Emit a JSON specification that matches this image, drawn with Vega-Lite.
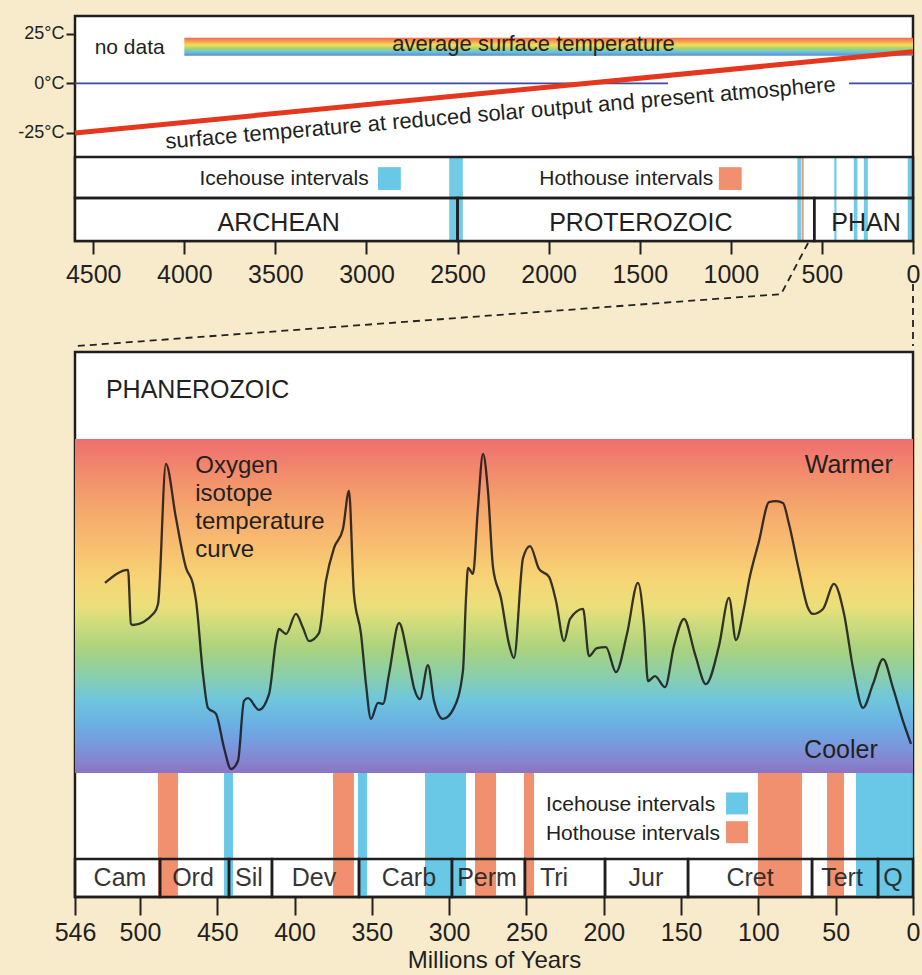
{
  "$schema": "https://vega.github.io/schema/vega-lite/v6.json",
  "background": "#F8EBCB",
  "padding": {"left": 16, "top": 14, "right": 6, "bottom": 4},
  "bounds": "flush",
  "spacing": 111,
  "config": {
    "font": "Liberation Sans",
    "view": {"stroke": "#1e1e1e", "strokeWidth": 2.5, "fill": "#ffffff"},
    "axis": {"labelFont": "Liberation Sans", "titleFont": "Liberation Sans", "labelColor": "#231f20", "titleColor": "#231f20", "tickColor": "#231f20", "domain": false, "grid": false, "labelOverlap": false, "labelFlush": false},
    "text": {"font": "Liberation Sans", "color": "#231f20"}
  },
  "datasets": {
    "eons": [
      {"eon": "ARCHEAN", "start": 4600, "end": 2500, "labelAge": 3482},
      {"eon": "PROTEROZOIC", "start": 2500, "end": 542, "labelAge": 1494},
      {"eon": "PHAN", "start": 542, "end": 0, "labelAge": 258}
    ],
    "topIntervals": [
      {"type": "Icehouse", "start": 2546, "end": 2471},
      {"type": "Icehouse", "start": 635, "end": 615},
      {"type": "Hothouse", "start": 612, "end": 600},
      {"type": "Icehouse", "start": 432, "end": 420},
      {"type": "Icehouse", "start": 325, "end": 305},
      {"type": "Icehouse", "start": 270, "end": 248},
      {"type": "Icehouse", "start": 29, "end": 0}
    ],
    "zeroLine": [
      {"from": 4600, "to": 1345, "temp": 0},
      {"from": 351, "to": 0, "temp": 0}
    ],
    "reducedSolar": [
      {"age": 4600, "temp": -25},
      {"age": 0, "temp": 16}
    ],
    "avgBand": [{"from": 4000, "to": 0, "hi": 23, "lo": 14}],
    "connectors": [
      {"seg": "a", "i": 1, "age": 576, "temp": -80.5},
      {"seg": "a", "i": 2, "age": 724, "temp": -106.3},
      {"seg": "a", "i": 3, "age": 4593, "temp": -132.5},
      {"seg": "b", "i": 1, "age": 0, "temp": -101.2},
      {"seg": "b", "i": 2, "age": 0, "temp": -132.5}
    ],
    "periods": [
      {"period": "Cam", "start": 542, "end": 487, "labelAge": 512.9},
      {"period": "Ord", "start": 487, "end": 442.4, "labelAge": 465.7},
      {"period": "Sil", "start": 442.4, "end": 414.6, "labelAge": 429.5},
      {"period": "Dev", "start": 414.6, "end": 358.3, "labelAge": 387.4},
      {"period": "Carb", "start": 358.3, "end": 298.2, "labelAge": 326},
      {"period": "Perm", "start": 298.2, "end": 251, "labelAge": 275.5},
      {"period": "Tri", "start": 251, "end": 199.2, "labelAge": 232.2},
      {"period": "Jur", "start": 199.2, "end": 145.5, "labelAge": 172.7},
      {"period": "Cret", "start": 145.5, "end": 65.3, "labelAge": 105.4},
      {"period": "Tert", "start": 65.3, "end": 22.6, "labelAge": 45.9},
      {"period": "Q", "start": 22.6, "end": 0, "labelAge": 12.9}
    ],
    "bottomIntervals": [
      {"type": "Hothouse", "start": 488.3, "end": 475.4},
      {"type": "Icehouse", "start": 445.6, "end": 439.8},
      {"type": "Hothouse", "start": 375.1, "end": 361.6},
      {"type": "Icehouse", "start": 359.0, "end": 353.1},
      {"type": "Icehouse", "start": 315.6, "end": 289.1},
      {"type": "Hothouse", "start": 283.3, "end": 269.7},
      {"type": "Hothouse", "start": 251.6, "end": 245.1},
      {"type": "Hothouse", "start": 100.3, "end": 71.8},
      {"type": "Hothouse", "start": 55.6, "end": 44.6},
      {"type": "Icehouse", "start": 36.9, "end": 0}
    ],
    "curve": [
      {"age": 522.6, "index": 56.9}, {"age": 507.7, "index": 60.8}, {"age": 505.8, "index": 44.6}, {"age": 504.5, "index": 44.3},
      {"age": 490.9, "index": 47.9}, {"age": 488.3, "index": 50.6}, {"age": 483.2, "index": 92.5}, {"age": 476.7, "index": 76.3},
      {"age": 470.2, "index": 61.4}, {"age": 465.7, "index": 56.6}, {"age": 463.7, "index": 51.5}, {"age": 459.2, "index": 29.6},
      {"age": 456.0, "index": 19.5}, {"age": 450.8, "index": 17.7}, {"age": 445.6, "index": 7.5}, {"age": 441.1, "index": 1.2},
      {"age": 436.6, "index": 3.6}, {"age": 432.7, "index": 21.6}, {"age": 430.1, "index": 22.4}, {"age": 423.0, "index": 18.9},
      {"age": 416.5, "index": 23.6}, {"age": 412.0, "index": 39.5}, {"age": 410.1, "index": 43.1}, {"age": 405.5, "index": 41.6},
      {"age": 399.1, "index": 47.6}, {"age": 394.5, "index": 43.4}, {"age": 390.7, "index": 39.5}, {"age": 384.2, "index": 41.9},
      {"age": 379.7, "index": 57.5}, {"age": 374.5, "index": 67.3}, {"age": 368.7, "index": 73.0}, {"age": 364.8, "index": 84.4},
      {"age": 361.6, "index": 53.6}, {"age": 357.0, "index": 41.6}, {"age": 353.8, "index": 26.6}, {"age": 350.6, "index": 16.2},
      {"age": 346.0, "index": 21.0}, {"age": 342.8, "index": 20.7}, {"age": 338.9, "index": 29.6}, {"age": 332.4, "index": 44.9},
      {"age": 326.6, "index": 34.4}, {"age": 322.7, "index": 25.4}, {"age": 318.9, "index": 22.1}, {"age": 313.7, "index": 32.3},
      {"age": 309.8, "index": 21.6}, {"age": 304.0, "index": 16.2}, {"age": 296.9, "index": 19.5}, {"age": 291.1, "index": 30.5},
      {"age": 289.1, "index": 52.4}, {"age": 287.8, "index": 61.4}, {"age": 284.6, "index": 59.6}, {"age": 281.4, "index": 79.3},
      {"age": 278.1, "index": 95.5}, {"age": 274.9, "index": 84.4}, {"age": 271.6, "index": 61.4}, {"age": 266.5, "index": 52.4},
      {"age": 261.3, "index": 38.6}, {"age": 258.1, "index": 34.4}, {"age": 252.2, "index": 64.4}, {"age": 247.7, "index": 67.9},
      {"age": 241.9, "index": 61.1}, {"age": 235.4, "index": 58.7}, {"age": 230.9, "index": 51.5}, {"age": 225.7, "index": 39.5},
      {"age": 221.8, "index": 46.1}, {"age": 213.4, "index": 49.1}, {"age": 209.6, "index": 35.0}, {"age": 204.4, "index": 37.4},
      {"age": 198.6, "index": 37.7}, {"age": 192.1, "index": 30.2}, {"age": 185.0, "index": 41.6}, {"age": 177.9, "index": 56.9},
      {"age": 174.0, "index": 44.6}, {"age": 171.4, "index": 27.5}, {"age": 166.9, "index": 29.0}, {"age": 160.4, "index": 25.7},
      {"age": 154.6, "index": 38.0}, {"age": 148.1, "index": 46.1}, {"age": 141.0, "index": 35.6}, {"age": 133.9, "index": 26.6},
      {"age": 125.5, "index": 38.0}, {"age": 119.0, "index": 52.4}, {"age": 114.5, "index": 39.8}, {"age": 109.3, "index": 49.4},
      {"age": 106.1, "index": 57.5}, {"age": 99.6, "index": 69.4}, {"age": 93.1, "index": 81.1}, {"age": 88.6, "index": 81.4},
      {"age": 84.1, "index": 80.8}, {"age": 80.2, "index": 74.5}, {"age": 73.7, "index": 60.5}, {"age": 67.9, "index": 49.4},
      {"age": 64.7, "index": 47.6}, {"age": 58.2, "index": 49.1}, {"age": 51.1, "index": 56.6}, {"age": 44.6, "index": 47.6},
      {"age": 38.8, "index": 31.4}, {"age": 32.3, "index": 19.5}, {"age": 25.9, "index": 26.6}, {"age": 19.4, "index": 34.1},
      {"age": 12.9, "index": 25.4}, {"age": 6.5, "index": 15.6}, {"age": 1.3, "index": 8.7}
    ]
  },
  "vconcat": [
    {
      "width": 838,
      "height": 225,
      "layer": [
        {
          "data": {"name": "reducedSolar"},
          "mark": {"type": "line", "strokeWidth": 0, "opacity": 0},
          "encoding": {
            "x": {"field": "age", "type": "quantitative", "title": null, "scale": {"domain": [4600, 0], "nice": false, "zero": false},
              "axis": {"values": [4500, 4000, 3500, 3000, 2500, 2000, 1500, 1000, 500, 0], "format": "d", "tickSize": 13, "tickWidth": 2, "labelFontSize": 25, "labelPadding": 8}},
            "y": {"field": "temp", "type": "quantitative", "title": null, "scale": {"domain": [-79.5, 34], "nice": false, "zero": false},
              "axis": {"values": [25, 0, -25], "labelExpr": "datum.value + '°C'", "tickSize": 9, "tickWidth": 2, "labelFontSize": 18, "labelPadding": 2}}
          }
        },
        {
          "data": {"name": "eons"},
          "mark": {"type": "rect", "fill": "#ffffff"},
          "encoding": {
            "x": {"field": "start", "type": "quantitative", "title": null},
            "x2": {"field": "end"},
            "y": {"datum": -37.1, "type": "quantitative", "title": null},
            "y2": {"datum": -79.5}
          }
        },
        {
          "data": {"name": "avgBand"},
          "mark": {"type": "rect", "fill": {"gradient": "linear", "x1": 0, "y1": 0, "x2": 0, "y2": 1,
            "stops": [
              {"offset": 0, "color": "#F26A4A"},
              {"offset": 0.2, "color": "#F6A04E"},
              {"offset": 0.4, "color": "#F3DC5E"},
              {"offset": 0.6, "color": "#A8D46C"},
              {"offset": 0.8, "color": "#64C3E2"},
              {"offset": 1, "color": "#6088D2"}
            ]}},
          "encoding": {
            "x": {"field": "from", "type": "quantitative", "title": null},
            "x2": {"field": "to"},
            "y": {"field": "hi", "type": "quantitative", "title": null},
            "y2": {"field": "lo"}
          }
        },
        {
          "data": {"name": "zeroLine"},
          "mark": {"type": "rule", "color": "#3B4BA0", "strokeWidth": 1.6},
          "encoding": {
            "x": {"field": "from", "type": "quantitative", "title": null},
            "x2": {"field": "to"},
            "y": {"field": "temp", "type": "quantitative", "title": null}
          }
        },
        {
          "data": {"name": "reducedSolar"},
          "mark": {"type": "line", "color": "#E5371D", "strokeWidth": 5},
          "encoding": {
            "x": {"field": "age", "type": "quantitative", "title": null},
            "y": {"field": "temp", "type": "quantitative", "title": null}
          }
        },
        {
          "data": {"values": [{"t": "no data", "age": 4492, "temp": 15.0}]},
          "mark": {"type": "text", "fontSize": 21, "align": "left", "baseline": "alphabetic"},
          "encoding": {
            "x": {"field": "age", "type": "quantitative", "title": null},
            "y": {"field": "temp", "type": "quantitative", "title": null},
            "text": {"field": "t"}
          }
        },
        {
          "data": {"values": [{"t": "average surface temperature", "age": 2083, "temp": 16.3}]},
          "mark": {"type": "text", "fontSize": 22, "align": "center", "baseline": "alphabetic", "color": "#2a2018"},
          "encoding": {
            "x": {"field": "age", "type": "quantitative", "title": null},
            "y": {"field": "temp", "type": "quantitative", "title": null},
            "text": {"field": "t"}
          }
        },
        {
          "data": {"values": [{"t": "surface temperature at reduced solar output and present atmosphere", "age": 2261, "temp": -18.5}]},
          "mark": {"type": "text", "fontSize": 22, "align": "center", "baseline": "alphabetic", "angle": 355.1},
          "encoding": {
            "x": {"field": "age", "type": "quantitative", "title": null},
            "y": {"field": "temp", "type": "quantitative", "title": null},
            "text": {"field": "t"}
          }
        },
        {
          "data": {"name": "topIntervals"},
          "mark": {"type": "rect", "opacity": 0.85},
          "encoding": {
            "x": {"field": "start", "type": "quantitative", "title": null},
            "x2": {"field": "end"},
            "y": {"datum": -37.1, "type": "quantitative", "title": null},
            "y2": {"datum": -79.5},
            "color": {"field": "type", "type": "nominal", "legend": null, "scale": {"domain": ["Icehouse", "Hothouse"], "range": ["#58C2E2", "#F0845E"]}}
          }
        },
        {
          "data": {"name": "avgBand"},
          "mark": {"type": "rect", "stroke": "#1e1e1e", "strokeWidth": 2.5, "fillOpacity": 0},
          "encoding": {
            "x": {"datum": 4600, "type": "quantitative", "title": null},
            "x2": {"datum": 0},
            "y": {"datum": -37.1, "type": "quantitative", "title": null},
            "y2": {"datum": -57.8}
          }
        },
        {
          "data": {"name": "eons"},
          "mark": {"type": "rect", "stroke": "#1e1e1e", "strokeWidth": 2.5, "fillOpacity": 0},
          "encoding": {
            "x": {"field": "start", "type": "quantitative", "title": null},
            "x2": {"field": "end"},
            "y": {"datum": -57.8, "type": "quantitative", "title": null},
            "y2": {"datum": -79.5}
          }
        },
        {
          "data": {"name": "eons"},
          "mark": {"type": "text", "fontSize": 25, "align": "center", "baseline": "alphabetic"},
          "encoding": {
            "x": {"field": "labelAge", "type": "quantitative", "title": null},
            "y": {"datum": -74.5, "type": "quantitative", "title": null},
            "text": {"field": "eon"}
          }
        },
        {
          "data": {"values": [{"t": "Icehouse intervals", "age": 3917, "temp": -51.4}, {"t": "Hothouse intervals", "age": 2051, "temp": -51.4}]},
          "mark": {"type": "text", "fontSize": 21, "align": "left", "baseline": "alphabetic"},
          "encoding": {
            "x": {"field": "age", "type": "quantitative", "title": null},
            "y": {"field": "temp", "type": "quantitative", "title": null},
            "text": {"field": "t"}
          }
        },
        {
          "data": {"values": [{"type": "Icehouse", "age": 2874, "temp": -48}, {"type": "Hothouse", "age": 1003, "temp": -48}]},
          "mark": {"type": "point", "shape": "square", "filled": true, "size": 520, "opacity": 0.9},
          "encoding": {
            "x": {"field": "age", "type": "quantitative", "title": null},
            "y": {"field": "temp", "type": "quantitative", "title": null},
            "color": {"field": "type", "type": "nominal", "legend": null}
          }
        },
        {
          "data": {"name": "connectors"},
          "mark": {"type": "line", "color": "#222222", "strokeWidth": 1.8, "strokeDash": [7, 5]},
          "encoding": {
            "x": {"field": "age", "type": "quantitative", "title": null},
            "y": {"field": "temp", "type": "quantitative", "title": null},
            "detail": {"field": "seg"},
            "order": {"field": "i"}
          }
        }
      ]
    },
    {
      "width": 838,
      "height": 545,
      "layer": [
        {
          "data": {"values": [{"from": 542, "to": 0, "warm": 100, "cool": 0}]},
          "mark": {"type": "rect", "fill": {"gradient": "linear", "x1": 0, "y1": 0, "x2": 0, "y2": 1,
            "stops": [
              {"offset": 0, "color": "#EE6E70"},
              {"offset": 0.1, "color": "#F28B6C"},
              {"offset": 0.2, "color": "#F5A56C"},
              {"offset": 0.32, "color": "#F8BE70"},
              {"offset": 0.42, "color": "#F7D475"},
              {"offset": 0.5, "color": "#EBDF7A"},
              {"offset": 0.56, "color": "#CBDB7C"},
              {"offset": 0.63, "color": "#A9D27E"},
              {"offset": 0.7, "color": "#8DCFA6"},
              {"offset": 0.78, "color": "#6FC6DD"},
              {"offset": 0.86, "color": "#6AAEE4"},
              {"offset": 0.93, "color": "#7D93DA"},
              {"offset": 1, "color": "#8B74C3"}
            ]}},
          "encoding": {
            "x": {"field": "from", "type": "quantitative", "title": "Millions of Years", "scale": {"domain": [542, 0], "nice": false, "zero": false},
              "axis": {"values": [542, 500, 450, 400, 350, 300, 250, 200, 150, 100, 50, 0], "labelExpr": "datum.value == 542 ? '546' : datum.label", "tickSize": 18, "tickWidth": 2, "labelFontSize": 25, "labelPadding": 5, "titleFontSize": 24, "titleFontWeight": "normal", "titlePadding": 3}},
            "x2": {"field": "to"},
            "y": {"field": "warm", "type": "quantitative", "scale": {"domain": [-37.1, 126], "nice": false, "zero": false}, "axis": null},
            "y2": {"field": "cool"}
          }
        },
        {
          "data": {"name": "curve"},
          "mark": {"type": "line", "color": "#151515", "strokeWidth": 2.3, "opacity": 0.85, "interpolate": "monotone"},
          "encoding": {
            "x": {"field": "age", "type": "quantitative", "title": "Millions of Years"},
            "y": {"field": "index", "type": "quantitative", "axis": null},
            "order": {"field": "age", "sort": "descending"}
          }
        },
        {
          "data": {"name": "bottomIntervals"},
          "mark": {"type": "rect", "opacity": 0.9},
          "encoding": {
            "x": {"field": "start", "type": "quantitative", "title": "Millions of Years"},
            "x2": {"field": "end"},
            "y": {"datum": 0, "type": "quantitative", "axis": null},
            "y2": {"datum": -37.1},
            "color": {"field": "type", "type": "nominal", "legend": null, "scale": {"domain": ["Icehouse", "Hothouse"], "range": ["#55C1E2", "#F0845E"]}}
          }
        },
        {
          "data": {"name": "periods"},
          "mark": {"type": "rect", "stroke": "#1e1e1e", "strokeWidth": 2.5, "fillOpacity": 0},
          "encoding": {
            "x": {"field": "start", "type": "quantitative", "title": "Millions of Years"},
            "x2": {"field": "end"},
            "y": {"datum": -25.7, "type": "quantitative", "axis": null},
            "y2": {"datum": -37.1}
          }
        },
        {
          "data": {"name": "periods"},
          "mark": {"type": "text", "fontSize": 25, "align": "center", "baseline": "alphabetic", "opacity": 0.9},
          "encoding": {
            "x": {"field": "labelAge", "type": "quantitative", "title": "Millions of Years"},
            "y": {"datum": -33.8, "type": "quantitative", "axis": null},
            "text": {"field": "period"}
          }
        },
        {
          "data": {"values": [{"type": "Icehouse", "age": 113.8, "index": -9.1}, {"type": "Hothouse", "age": 113.8, "index": -17.7}]},
          "mark": {"type": "point", "shape": "square", "filled": true, "size": 484, "opacity": 0.9},
          "encoding": {
            "x": {"field": "age", "type": "quantitative", "title": "Millions of Years"},
            "y": {"field": "index", "type": "quantitative", "axis": null},
            "color": {"field": "type", "type": "nominal", "legend": null}
          }
        },
        {
          "data": {"values": [{"t": "Icehouse intervals", "age": 237.4, "index": -11.4}, {"t": "Hothouse intervals", "age": 237.4, "index": -20.1}]},
          "mark": {"type": "text", "fontSize": 21, "align": "left", "baseline": "alphabetic"},
          "encoding": {
            "x": {"field": "age", "type": "quantitative", "title": "Millions of Years"},
            "y": {"field": "index", "type": "quantitative", "axis": null},
            "text": {"field": "t"}
          }
        },
        {
          "data": {"values": [{"t": "PHANEROZOIC", "age": 522, "index": 112.2}]},
          "mark": {"type": "text", "fontSize": 25, "align": "left", "baseline": "alphabetic"},
          "encoding": {
            "x": {"field": "age", "type": "quantitative", "title": "Millions of Years"},
            "y": {"field": "index", "type": "quantitative", "axis": null},
            "text": {"field": "t"}
          }
        },
        {
          "data": {"values": [{"t": "Oxygen\nisotope\ntemperature\ncurve", "age": 464.2, "index": 89.8}]},
          "mark": {"type": "text", "fontSize": 24, "align": "left", "baseline": "alphabetic", "lineBreak": "\n", "lineHeight": 28},
          "encoding": {
            "x": {"field": "age", "type": "quantitative", "title": "Millions of Years"},
            "y": {"field": "index", "type": "quantitative", "axis": null},
            "text": {"field": "t"}
          }
        },
        {
          "data": {"values": [{"t": "Warmer", "age": 13.1, "index": 89.8}, {"t": "Cooler", "age": 22.8, "index": 4.6}]},
          "mark": {"type": "text", "fontSize": 25, "align": "right", "baseline": "alphabetic"},
          "encoding": {
            "x": {"field": "age", "type": "quantitative", "title": "Millions of Years"},
            "y": {"field": "index", "type": "quantitative", "axis": null},
            "text": {"field": "t"}
          }
        }
      ]
    }
  ]
}
